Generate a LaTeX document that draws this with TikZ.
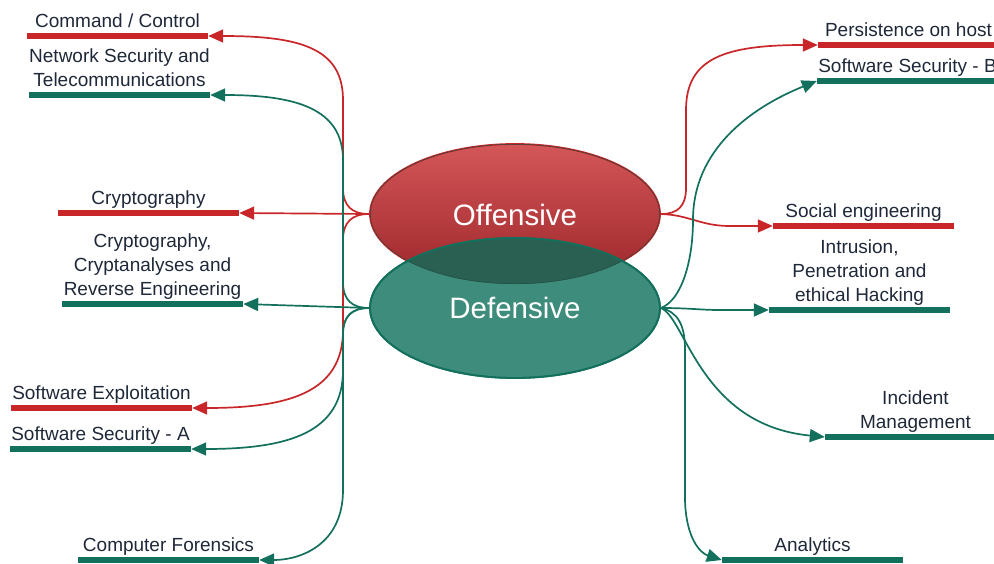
\documentclass[tikz,border=0pt]{standalone}
\usepackage{fontspec}
\setmainfont{Liberation Sans}
\usetikzlibrary{arrows.meta,shapes.geometric}
\definecolor{cred}{RGB}{200,38,40}
\definecolor{cgreen}{RGB}{18,112,92}
\definecolor{ctext}{RGB}{30,40,56}
\definecolor{offtop}{RGB}{212,86,88}
\definecolor{offbot}{RGB}{156,38,42}
\definecolor{deffill}{RGB}{62,140,123}
\definecolor{ovl}{RGB}{42,96,82}
\begin{document}
\begin{tikzpicture}[x=1pt,y=-1pt,
  lbl/.style={font=\fontsize{19}{24}\selectfont, text=ctext, align=center, inner sep=0pt, text depth=0pt},
  barR/.style={rectangle, fill=cred, minimum width=181pt, minimum height=6pt, inner sep=0pt},
  barG/.style={rectangle, fill=cgreen, minimum width=181pt, minimum height=6pt, inner sep=0pt},
  conR/.style={draw=cred, line width=1.7pt, -{Triangle[length=15pt,width=13pt]}},
  conG/.style={draw=cgreen, line width=1.7pt, -{Triangle[length=15pt,width=13pt]}},
  every label/.style={lbl},
  label distance=5pt,
  bubble/.style={ellipse, minimum width=290pt, minimum height=140pt, inner sep=0pt,
    font=\fontsize{29.5}{30}\selectfont, text=white}
]
\useasboundingbox (0,0) rectangle (994,563);

% target bars with labels
\node[barR, label={above:Command / Control}] (cc) at (117.5,36) {};
\node[barG, label={above:{Network Security and\\Telecommunications}}] (ns) at (119.5,95) {};
\node[barR, label={above:Cryptography}] (cr) at (148.5,213) {};
\node[barG, label={above:{Cryptography,\\Cryptanalyses and\\Reverse Engineering}}] (cre) at (152.5,304) {};
\node[barR, label={above:Software Exploitation}] (sx) at (101.5,408) {};
\node[barG, label={above:Software Security - A}] (ssa) at (100.5,449) {};
\node[barG, label={above:Computer Forensics}] (cf) at (168.5,560) {};

\node[barR, label={above:Persistence on host}] (pe) at (908.5,45) {};
\node[barG, label={above:Software Security - B}] (sb) at (907.5,81) {};
\node[barR, label={above:Social engineering}] (soc) at (863.5,226) {};
\node[barG, label={above:{Intrusion,\\Penetration and\\ethical Hacking}}] (intr) at (859.5,310) {};
\node[barG, label={above:{Incident\\Management}}] (im) at (915.5,437) {};
\node[barG, label={above:Analytics}] (an) at (812.5,560) {};

% bubbles
\node[bubble, draw=cred, line width=1.8pt, top color=offtop, bottom color=offbot] (off) at (515,214) {};
\node[bubble, fill=deffill, draw=cgreen, line width=1.8pt] (def) at (515,308) {};
\begin{scope}
  \clip (515,214) ellipse (145 and 70);
  \fill[ovl] (515,308) ellipse (145 and 70);
  \draw[ovl!80!black, line width=1pt] (515,214) ellipse (145 and 70);
\end{scope}
\draw[cgreen, line width=1.8pt] (515,308) ellipse (145 and 70);
\node[font=\fontsize{29.5}{30}\selectfont, text=white] (offt) at (515,215) {Offensive};
\node[font=\fontsize{29.5}{30}\selectfont, text=white] (deft) at (515,308) {Defensive};

% left connectors
\draw[conR] (off.west) .. controls (352,214) and (343,206) .. (343,188) -- (343,100)
  .. controls (343,48) and (300,36) .. (cc.east);
\draw[conR] (off.west) -- (cr.east);
\draw[conR] (off.west) .. controls (352,214) and (343,222) .. (343,240) -- (343,330)
  .. controls (343,392) and (290,408) .. (sx.east);
\draw[conG] (def.west) .. controls (352,308) and (343,300) .. (343,282) -- (343,160)
  .. controls (343,108) and (295,95) .. (ns.east);
\draw[conG] (def.west) -- (cre.east);
\draw[conG] (def.west) .. controls (352,308) and (343,316) .. (343,334) -- (343,370)
  .. controls (343,432) and (290,449) .. (ssa.east);
\draw[conG] (def.west) .. controls (352,308) and (343,316) .. (343,334) -- (343,490)
  .. controls (343,545) and (300,560) .. (cf.east);

% right connectors
\draw[conR] (off.east) .. controls (678,214) and (686,206) .. (686,188) -- (686,110)
  .. controls (686,58) and (725,45) .. (pe.west);
\draw[conR] (off.east) .. controls (690,215) and (700,226) .. (730,226) -- (soc.west);
\draw[conG] (def.east) .. controls (682,300) and (693,260) .. (693,220)
  .. controls (693,150) and (750,108) .. (sb.west);
\draw[conG] (def.east) .. controls (690,308) and (700,310) .. (720,310) -- (intr.west);
\draw[conG] (def.east) .. controls (686,318) and (700,425) .. (im.west);
\draw[conG] (def.east) .. controls (678,312) and (685,325) .. (685,350) -- (685,500)
  .. controls (686,538) and (700,553) .. (an.west);
\end{tikzpicture}
\end{document}
